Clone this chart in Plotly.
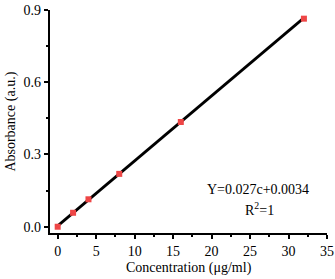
import plotly.graph_objects as go

conc = [0, 2, 4, 8, 16, 32]
absorb = [0.0, 0.058, 0.114, 0.2195, 0.435, 0.864]
fit_x = [0, 32]
fit_y = [0.0034, 0.8674]
eq_text = "Y=0.027c+0.0034"
r2_text = "R<sup>2</sup>=1"
x_title = "Concentration (μg/ml)"
y_title = "Absorbance (a.u.)"

FONT = "Liberation Serif, Times New Roman, serif"

fig = go.Figure()
fig.add_trace(go.Scatter(x=fit_x, y=fit_y, mode="lines",
                         line=dict(color="black", width=2.8), showlegend=False))
fig.add_trace(go.Scatter(x=conc, y=absorb, mode="markers",
                         marker=dict(symbol="square", size=6, color="#ee4646"),
                         showlegend=False))

ann_font = dict(family=FONT, size=14, color="black")
fig.add_annotation(x=0.751, y=0.193, xref="paper", yref="paper", text=eq_text,
                   xanchor="center", yanchor="middle", showarrow=False, font=ann_font)
fig.add_annotation(x=0.758, y=0.108, xref="paper", yref="paper", text=r2_text,
                   xanchor="center", yanchor="middle", showarrow=False, font=ann_font)
fig.add_annotation(x=0.5, y=-0.155, xref="paper", yref="paper", text=x_title,
                   xanchor="center", yanchor="middle", showarrow=False, font=ann_font)
fig.add_annotation(x=-0.144, y=0.5, xref="paper", yref="paper", text=y_title,
                   xanchor="center", yanchor="middle", textangle=-90,
                   showarrow=False, font=ann_font)

axis_common = dict(showline=True, linecolor="black", linewidth=2.3, ticks="outside",
                   ticklen=4, tickwidth=2, tickcolor="black", showgrid=False,
                   zeroline=False, mirror=False, automargin=False,
                   tickfont=dict(family=FONT, size=14, color="black"))

fig.update_xaxes(range=[-1.0, 35], dtick=5, tick0=0,
                 minor=dict(ticks="outside", ticklen=2, tickwidth=2, tickcolor="black", dtick=2.5),
                 **axis_common)
fig.update_yaxes(range=[-0.026, 0.9], dtick=0.3, tick0=0, tickformat=".1f",
                 minor=dict(ticks="outside", ticklen=2, tickwidth=2, tickcolor="black", dtick=0.15),
                 **axis_common)

fig.update_layout(width=335, height=279, margin=dict(l=50, r=8, t=10, b=46),
                  plot_bgcolor="white", paper_bgcolor="white",
                  font=dict(family=FONT, color="black"))

fig.write_html("out.html", config={"displayModeBar": False},
               post_script="document.body.style.margin='0';document.body.style.overflow='hidden';")
